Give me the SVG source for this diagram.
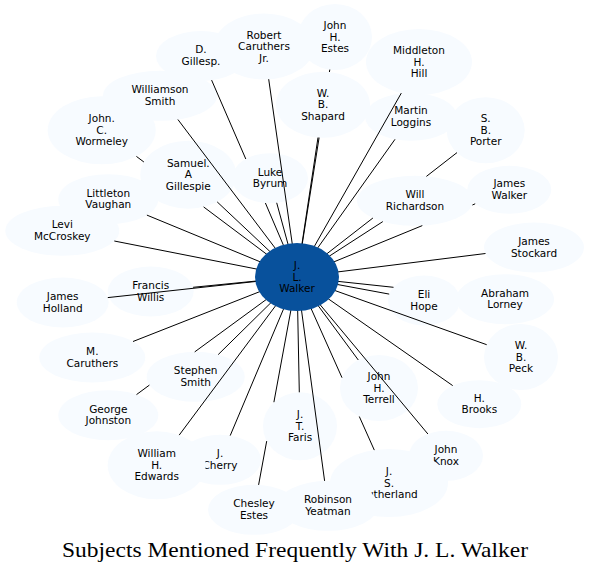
<svg xmlns="http://www.w3.org/2000/svg" width="590" height="572" viewBox="0 0 590 572">
<style>
.n ellipse{fill:#f7fbff;stroke:none}
.c ellipse{fill:#08519c;stroke:none}
text{font-family:"DejaVu Sans",sans-serif;font-size:10.5px;text-anchor:middle;fill:#000}
#edges path{stroke:#000;stroke-width:1;fill:none}
.title{font-family:"Liberation Serif","Times New Roman",serif;font-size:21px}
</style>
<rect width="590" height="572" fill="#fff"/>
<g id="nodes">
<g id="n-dg" class="n"><ellipse cx="201" cy="56" rx="45" ry="25"/><text><tspan x="201" y="53.3">D.</tspan><tspan x="201" y="65">Gillesp.</tspan></text></g>
<g id="n-rc" class="n"><ellipse cx="264" cy="46.5" rx="50" ry="33"/><text><tspan x="264" y="38.5">Robert</tspan><tspan x="264" y="50">Caruthers</tspan><tspan x="264" y="61.5">Jr.</tspan></text></g>
<g id="n-je" class="n"><ellipse cx="335" cy="37" rx="37" ry="33"/><text><tspan x="335" y="29">John</tspan><tspan x="335" y="40.5">H.</tspan><tspan x="335" y="52">Estes</tspan></text></g>
<g id="n-mh" class="n"><ellipse cx="419" cy="62" rx="53" ry="33"/><text><tspan x="419" y="54">Middleton</tspan><tspan x="419" y="65.5">H.</tspan><tspan x="419" y="77">Hill</tspan></text></g>
<g id="n-ws" class="n"><ellipse cx="323" cy="104.7" rx="47" ry="33"/><text><tspan x="323" y="96.7">W.</tspan><tspan x="323" y="108.2">B.</tspan><tspan x="323" y="119.7">Shapard</tspan></text></g>
<g id="n-ml" class="n"><ellipse cx="411" cy="116.8" rx="46" ry="24"/><text><tspan x="411" y="114.3">Martin</tspan><tspan x="411" y="126">Loggins</tspan></text></g>
<g id="n-sp" class="n"><ellipse cx="485.7" cy="130.3" rx="39" ry="33"/><text><tspan x="485.7" y="122.3">S.</tspan><tspan x="485.7" y="133.8">B.</tspan><tspan x="485.7" y="145.3">Porter</tspan></text></g>
<g id="n-jw" class="n"><ellipse cx="509.3" cy="189.8" rx="42" ry="24"/><text><tspan x="509.3" y="187.3">James</tspan><tspan x="509.3" y="199">Walker</tspan></text></g>
<g id="n-wr" class="n"><ellipse cx="415" cy="200.8" rx="58" ry="25"/><text><tspan x="415" y="198.3">Will</tspan><tspan x="415" y="210">Richardson</tspan></text></g>
<g id="n-js" class="n"><ellipse cx="534" cy="247.5" rx="50" ry="25"/><text><tspan x="534" y="245">James</tspan><tspan x="534" y="256.7">Stockard</tspan></text></g>
<g id="n-eh" class="n"><ellipse cx="424" cy="300.5" rx="36" ry="25"/><text><tspan x="424" y="298">Eli</tspan><tspan x="424" y="309.7">Hope</tspan></text></g>
<g id="n-al" class="n"><ellipse cx="505" cy="299.2" rx="49" ry="25"/><text><tspan x="505" y="296.7">Abraham</tspan><tspan x="505" y="308.4">Lorney</tspan></text></g>
<g id="n-wp" class="n"><ellipse cx="521" cy="357" rx="37" ry="33"/><text><tspan x="521" y="349">W.</tspan><tspan x="521" y="360.5">B.</tspan><tspan x="521" y="372">Peck</tspan></text></g>
<g id="n-hb" class="n"><ellipse cx="479.3" cy="404.2" rx="42" ry="24"/><text><tspan x="479.3" y="401.7">H.</tspan><tspan x="479.3" y="413.4">Brooks</tspan></text></g>
<g id="n-jk" class="n"><ellipse cx="446" cy="455.8" rx="37" ry="25"/><text><tspan x="446" y="453.3">John</tspan><tspan x="446" y="465">Knox</tspan></text></g>
<g id="n-jht" class="n"><ellipse cx="379" cy="388" rx="39" ry="33"/><text><tspan x="379" y="380">John</tspan><tspan x="379" y="391.5">H.</tspan><tspan x="379" y="403">Terrell</tspan></text></g>
<g id="n-jsu" class="n"><ellipse cx="389" cy="483" rx="59" ry="34"/><text><tspan x="389" y="475">J.</tspan><tspan x="389" y="486.5">S.</tspan><tspan x="389" y="498">Sutherland</tspan></text></g>
<g id="n-jtf" class="n"><ellipse cx="300" cy="426.3" rx="37" ry="34"/><text><tspan x="300" y="418.3">J.</tspan><tspan x="300" y="429.8">T.</tspan><tspan x="300" y="441.3">Faris</tspan></text></g>
<g id="n-ce" class="n"><ellipse cx="254" cy="509.8" rx="46" ry="25"/><text><tspan x="254" y="507.3">Chesley</tspan><tspan x="254" y="519">Estes</tspan></text></g>
<g id="n-ry" class="n"><ellipse cx="328" cy="505.8" rx="50" ry="25"/><text><tspan x="328" y="503.3">Robinson</tspan><tspan x="328" y="515">Yeatman</tspan></text></g>
<g id="n-jc" class="n"><ellipse cx="220" cy="459.8" rx="41" ry="25"/><text><tspan x="220" y="457.3">J.</tspan><tspan x="220" y="469">Cherry</tspan></text></g>
<g id="n-whe" class="n"><ellipse cx="156.7" cy="465.3" rx="49" ry="34"/><text><tspan x="156.7" y="457.3">William</tspan><tspan x="156.7" y="468.8">H.</tspan><tspan x="156.7" y="480.3">Edwards</tspan></text></g>
<g id="n-gj" class="n"><ellipse cx="108.3" cy="415.2" rx="50" ry="25"/><text><tspan x="108.3" y="412.7">George</tspan><tspan x="108.3" y="424.4">Johnston</tspan></text></g>
<g id="n-ss" class="n"><ellipse cx="195.7" cy="376.8" rx="49" ry="25"/><text><tspan x="195.7" y="374.3">Stephen</tspan><tspan x="195.7" y="386">Smith</tspan></text></g>
<g id="n-mc" class="n"><ellipse cx="92.3" cy="357.5" rx="53" ry="25"/><text><tspan x="92.3" y="355">M.</tspan><tspan x="92.3" y="366.7">Caruthers</tspan></text></g>
<g id="n-jh" class="n"><ellipse cx="62.7" cy="302.5" rx="46" ry="25"/><text><tspan x="62.7" y="300">James</tspan><tspan x="62.7" y="311.7">Holland</tspan></text></g>
<g id="n-fw" class="n"><ellipse cx="150.7" cy="291.5" rx="43" ry="25"/><text><tspan x="150.7" y="289">Francis</tspan><tspan x="150.7" y="300.7">Willis</tspan></text></g>
<g id="n-lm" class="n"><ellipse cx="62.3" cy="230.8" rx="57" ry="25"/><text><tspan x="62.3" y="228.3">Levi</tspan><tspan x="62.3" y="240">McCroskey</tspan></text></g>
<g id="n-lv" class="n"><ellipse cx="108.3" cy="199.2" rx="50" ry="25"/><text><tspan x="108.3" y="196.7">Littleton</tspan><tspan x="108.3" y="208.4">Vaughan</tspan></text></g>
<g id="n-jcw" class="n"><ellipse cx="101.7" cy="130.3" rx="54" ry="34"/><text><tspan x="101.7" y="122.3">John.</tspan><tspan x="101.7" y="133.8">C.</tspan><tspan x="101.7" y="145.3">Wormeley</tspan></text></g>
<g id="n-wsm" class="n"><ellipse cx="160" cy="95.8" rx="57" ry="25"/><text><tspan x="160" y="93.3">Williamson</tspan><tspan x="160" y="105">Smith</tspan></text></g>
<g id="n-sag" class="n"><ellipse cx="188.3" cy="174.7" rx="48" ry="34"/><text><tspan x="188.3" y="166.7">Samuel.</tspan><tspan x="188.3" y="178.2">A</tspan><tspan x="188.3" y="189.7">Gillespie</tspan></text></g>
<g id="n-lb" class="n"><ellipse cx="270" cy="178.2" rx="38" ry="25"/><text><tspan x="270" y="175.7">Luke</tspan><tspan x="270" y="187.4">Byrum</tspan></text></g>
</g>
<g id="edges">
<path d="M211.6,80.1L245.8,159M265.4,203L297,277"/>
<path d="M276.7,202.8L297,277"/>
<path d="M268.7,79.2L297,277"/>
<path d="M329.8,69.6L329.4,72M319.1,137.6L297,277"/>
<path d="M318,137.5L297,277"/>
<path d="M401.3,93.1L297,277"/>
<path d="M395,139.3L297,277"/>
<path d="M457,152.6L426.4,176.4M372.9,218L297,277"/>
<path d="M382.8,221.6L297,277"/>
<path d="M475.2,203.8L472.4,205M422.3,225.6L297,277"/>
<path d="M485.5,253.5L297,277"/>
<path d="M389.2,294.1L297,277"/>
<path d="M393.5,287.3L297,277"/>
<path d="M486.7,344.7L297,277"/>
<path d="M452.7,385.6L297,277"/>
<path d="M427.9,434L297,277"/>
<path d="M358.3,360L297,277"/>
<path d="M374.3,450.1L359.3,416.5M342,377.7L297,277"/>
<path d="M324.6,480.9L297,277"/>
<path d="M299.3,392.3L297,277"/>
<path d="M258.6,484.9L266.7,441.1M273.9,402.2L297,277"/>
<path d="M230.2,435.6L297,277"/>
<path d="M179.2,435.1L297,277"/>
<path d="M218.2,354.6L297,277"/>
<path d="M136.5,394.6L149.4,385.1M194.7,351.9L297,277"/>
<path d="M133,341.5L297,277"/>
<path d="M107.8,297.6L297,277"/>
<path d="M193.1,287.3L297,277"/>
<path d="M114.3,241L297,277"/>
<path d="M146.9,215.1L297,277"/>
<path d="M136.4,156.4L143.9,162M203.6,206.9L297,277"/>
<path d="M177.9,119.5L297,277"/>
<path d="M217.2,201.9L297,277"/>
</g>
<g id="n-center" class="c"><ellipse cx="297" cy="277" rx="42" ry="34"/><text><tspan x="297" y="269">J.</tspan><tspan x="297" y="280.5">L.</tspan><tspan x="297" y="292">Walker</tspan></text></g>
<text class="title" x="295" y="557" textLength="466" lengthAdjust="spacingAndGlyphs">Subjects Mentioned Frequently With J. L. Walker</text>
</svg>
